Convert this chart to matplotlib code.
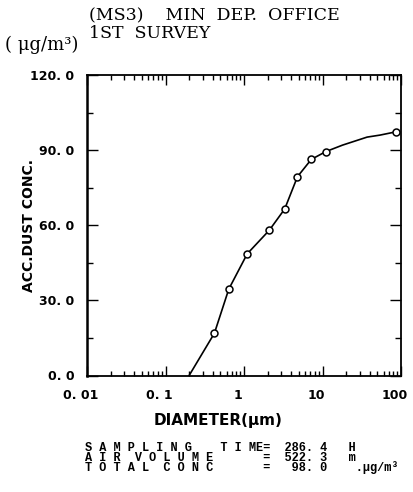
import matplotlib
matplotlib.use("Agg")
import matplotlib.pyplot as plt
import matplotlib.transforms as mtransforms
from matplotlib.ticker import FixedLocator, MultipleLocator, LogLocator, NullFormatter

# ---- data ----
diameter_um = [0.42, 0.64, 1.1, 2.1, 3.3, 4.8, 7.2, 11.0, 86.0]
acc_conc = [16.9, 34.5, 48.6, 58.0, 66.5, 79.4, 86.3, 89.4, 97.3]
# drawn curve (it starts at zero near 0.2 um)
curve_d = [0.2, 0.42, 0.64, 1.1, 2.1, 3.3, 4.8, 7.2, 11.0, 18.0, 37.0, 54.0, 86.0]
curve_c = [0.0, 16.9, 34.5, 48.6, 58.0, 66.5, 79.4, 86.3, 89.4, 92.0, 95.2, 96.0, 97.3]

x_ticks = [0.01, 0.1, 1, 10, 100]
x_tick_labels = ["0. 01", "0. 1", "1", "10", "100"]
y_ticks = [0, 30, 60, 90, 120]
y_tick_labels = ["0. 0", "30. 0", "60. 0", "90. 0", "120. 0"]

title_line1 = "(MS3)    MIN  DEP.  OFFICE"
title_line2 = "1ST  SURVEY"
unit_label = "( μg/m³)"
y_label = "ACC.DUST CONC."
x_label = "DIAMETER(μm)"
info_lines = [
    "S A M P L I N G    T I ME=  286. 4   H",
    "A I R  V O L U M E       =  522. 3   m",
    "T O T A L  C O N C       =   98. 0    .μg/m³",
]

W, H = 414, 492
fig = plt.figure(figsize=(W / 100, H / 100), dpi=100)
fig.patch.set_facecolor("white")


def ftext(x, y, s, **kw):
    return fig.text(x / W, 1 - y / H, s, **kw)


left, right, top, bottom = 87, 401, 75, 375.5
ax = fig.add_axes([left / W, 1 - bottom / H, (right - left) / W, (bottom - top) / H])
ax.set_xscale("log")
ax.set_xlim(0.01, 100)
ax.set_ylim(0, 120)

ax.plot(curve_d, curve_c, color="black", lw=1.2, zorder=2)
ax.plot(diameter_um, acc_conc, "o", mfc="white", mec="black", ms=5, mew=1.1, zorder=3)

ax.xaxis.set_major_locator(FixedLocator(x_ticks))
ax.set_xticklabels(x_tick_labels)
ax.xaxis.set_minor_locator(LogLocator(base=10, subs=range(2, 10)))
ax.xaxis.set_minor_formatter(NullFormatter())
ax.yaxis.set_major_locator(FixedLocator(y_ticks))
ax.set_yticklabels(y_tick_labels)
ax.yaxis.set_minor_locator(MultipleLocator(15))

ax.tick_params(which="both", direction="in", top=True, right=True, color="black", width=1.0)
ax.tick_params(axis="x", which="major", length=7, pad=10)
ax.tick_params(axis="x", which="minor", length=3.5)
ax.tick_params(axis="y", which="major", length=8, pad=9)
ax.tick_params(axis="y", which="minor", length=4)

for sp in ax.spines.values():
    sp.set_linewidth(1.3)
    sp.set_color("black")
ax.spines["left"].set_linewidth(1.8)

tick_font = dict(family="DejaVu Sans", weight="bold", size=9)
shift = mtransforms.ScaledTranslation(-6 / 100, 0, fig.dpi_scale_trans)
for lab in ax.get_xticklabels():
    lab.set(**tick_font)
    lab.set_transform(lab.get_transform() + shift)
for lab in ax.get_yticklabels():
    lab.set(**tick_font)

ftext(89, 16, title_line1, ha="left", va="center", family="DejaVu Serif", size=12.5)
ftext(89, 33, title_line2, ha="left", va="center", family="DejaVu Serif", size=12.5)
ftext(5, 45, unit_label, ha="left", va="center", family="DejaVu Serif", size=13)

ftext(29, 225, y_label, rotation=90, ha="center", va="center",
      family="DejaVu Sans", weight="bold", size=10)
ftext(218, 420, x_label, ha="center", va="center",
      family="DejaVu Sans", weight="bold", size=11)

ftext(85, 458, "\n".join(info_lines), ha="left", va="center",
      family="Liberation Mono", weight="bold", size=8.6, linespacing=0.72)

fig.savefig("out.png", dpi=100, facecolor="white")
